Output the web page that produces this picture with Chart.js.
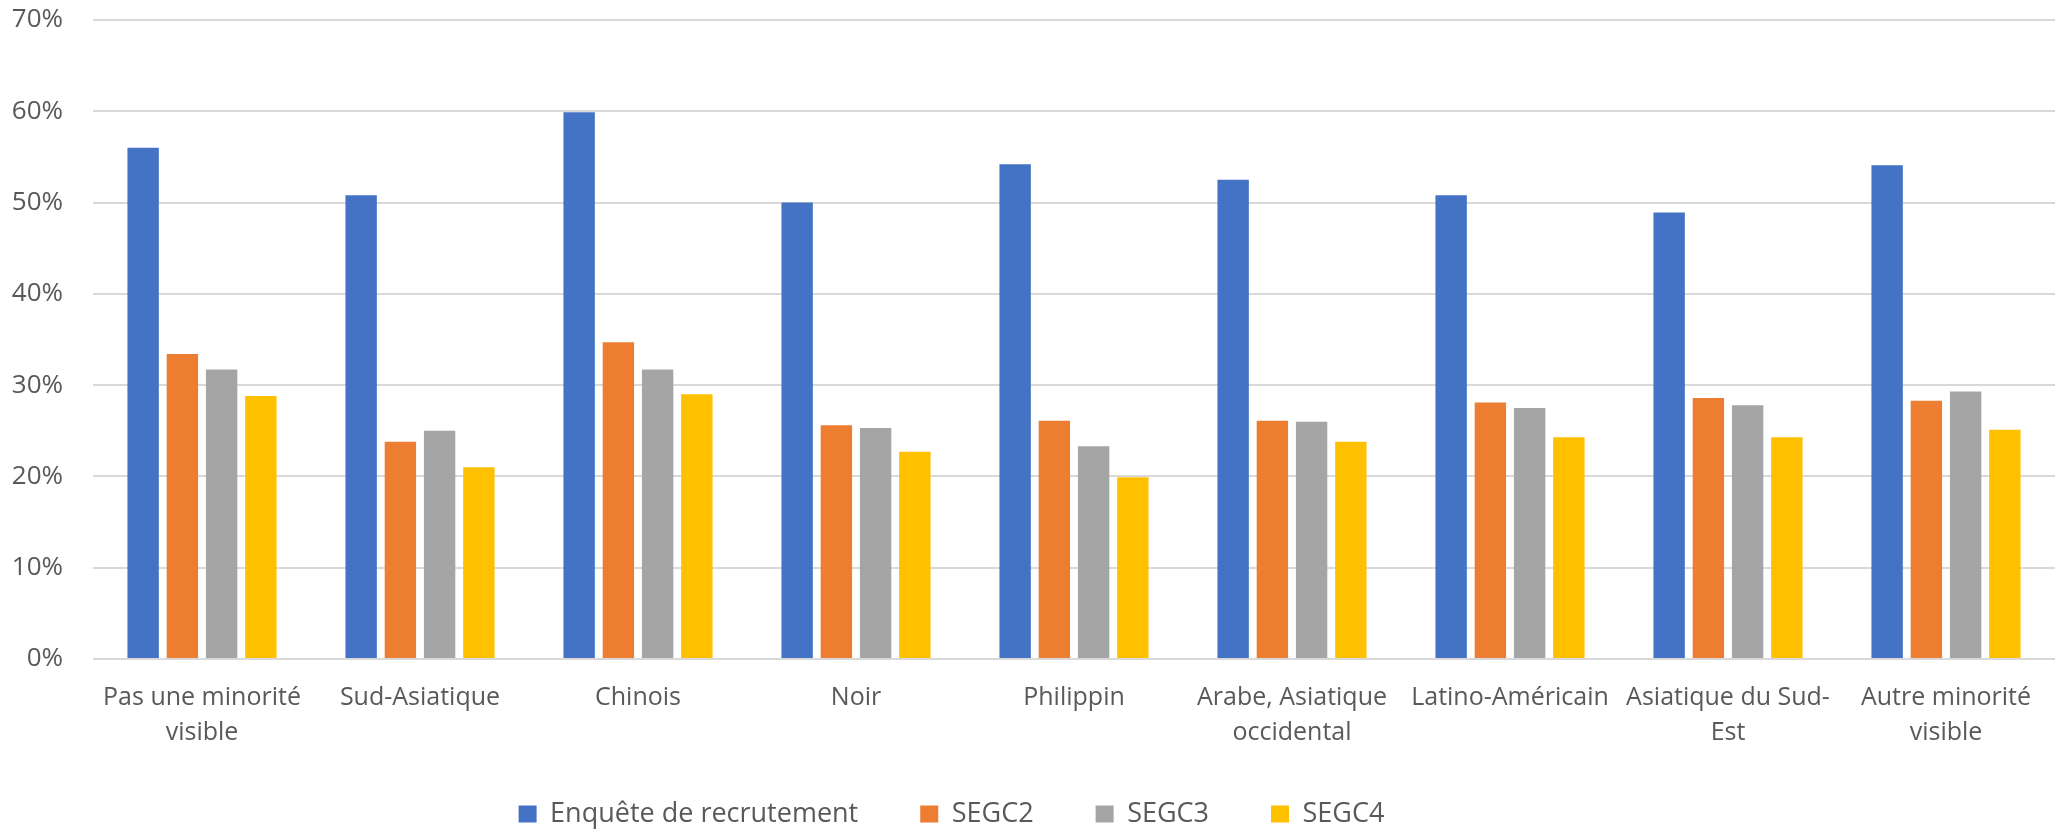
<!DOCTYPE html>
<html>
<head>
<meta charset="utf-8">
<script src="https://cdn.jsdelivr.net/npm/chart.js@4"></script>
<style>
  html, body { margin: 0; padding: 0; background: #fff; }
  #wrap { width: 2057px; height: 829px; position: relative; }
</style>
</head>
<body>
<div id="wrap"><canvas id="myChart"></canvas></div>
<script>
// categories (multi-line labels as arrays)
const categories = [
  ['Pas une minorité', 'visible'],
  'Sud-Asiatique',
  'Chinois',
  'Noir',
  'Philippin',
  ['Arabe, Asiatique', 'occidental'],
  'Latino-Américain',
  ['Asiatique du Sud-', 'Est'],
  ['Autre minorité', 'visible']
];

const seriesNames = ['Enquête de recrutement', 'SEGC2', 'SEGC3', 'SEGC4'];

// values in %
const enquete = [56.0, 50.8, 59.9, 50.0, 54.2, 52.5, 50.8, 48.9, 54.1];
const segc2   = [33.4, 23.8, 34.7, 25.6, 26.1, 26.1, 28.1, 28.6, 28.3];
const segc3   = [31.7, 25.0, 31.7, 25.3, 23.3, 26.0, 27.5, 27.8, 29.3];
const segc4   = [28.8, 21.0, 29.0, 22.7, 19.9, 23.8, 24.3, 24.3, 25.1];

const colors = ['#4472C4', '#ED7D31', '#A5A5A5', '#FFC000'];
const textColor = '#595959';
const gridColor = '#d9d9d9';

// legend sits lower and a bit left of centre, like Excel
const legendFix = {
  id: 'legendFix',
  afterInit(chart) {
    const lg = chart.legend;
    const fit = lg.fit;
    lg.fit = function () {
      fit.call(this);
      this.height = 58;
    };
  },
  afterLayout(chart) {
    const lg = chart.legend;
    const pad = lg.options.labels.padding;
    const size = lg.options.labels.font.size;
    lg.top = 814 - pad - size / 2;
    lg.bottom = chart.height;
    lg.left -= 76;
    lg.right -= 76;
  }
};

const allData = [enquete, segc2, segc3, segc4];
const datasets = seriesNames.map((name, i) => ({
  label: name,
  data: allData[i],
  backgroundColor: colors[i],
  borderWidth: 0,
  categoryPercentage: 0.72,
  barPercentage: 0.8
}));

const ctx = document.querySelector('#myChart').getContext('2d');
const myChart = new Chart(ctx, {
  type: 'bar',
  data: {
    labels: categories,
    datasets: datasets
  },
  options: {
    responsive: true,
    maintainAspectRatio: false,
    animation: false,
    layout: {
      padding: { top: 0, left: 0, right: 2, bottom: 0 }
    },
    plugins: {
      legend: {
        position: 'bottom',
        labels: {
          color: textColor,
          font: { family: 'Open Sans', size: 27 },
          boxWidth: 18,
          boxHeight: 17,
          padding: 62
        }
      },
      tooltip: { enabled: false }
    },
    scales: {
      x: {
        grid: { display: false, drawTicks: false },
        border: { display: false },
        ticks: {
          color: textColor,
          font: { family: 'Open Sans', size: 25, lineHeight: 1.4 },
          padding: 21,
          autoSkip: false,
          maxRotation: 0
        }
      },
      y: {
        min: 0,
        max: 70,
        grid: { color: gridColor, lineWidth: 2, drawTicks: false },
        border: { display: false },
        ticks: {
          stepSize: 10,
          color: textColor,
          font: { family: 'Open Sans', size: 26 },
          padding: 30,
          callback: (v) => v + '%'
        },
        afterFit(axis) {
          axis.width = 93;
          axis.paddingTop = 20;
        }
      }
    }
  },
  plugins: [legendFix]
});
</script>
</body>
</html>
